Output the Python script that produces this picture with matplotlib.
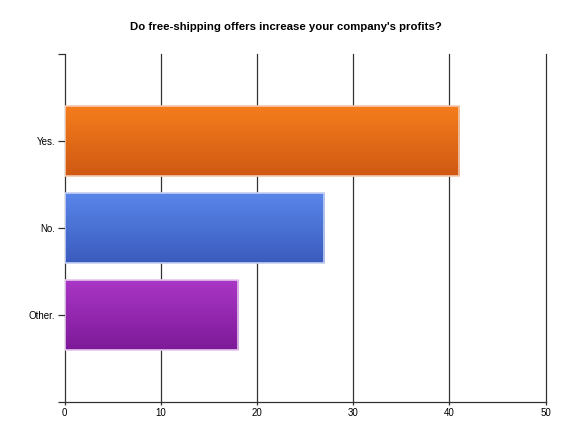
import numpy as np
import matplotlib
matplotlib.use("Agg")
import matplotlib.pyplot as plt
from matplotlib.colors import LinearSegmentedColormap

plt.rcParams['font.family'] = ['Liberation Sans', 'DejaVu Sans']

title = "Do free-shipping offers increase your company's profits?"
categories = ['Yes.', 'No.', 'Other.']
values = [41, 27, 18]
# top / bottom colours of each bar's gradient
top_colors = ['#f57d1c', '#5a86ea', '#aa36c6']
bottom_colors = ['#cf5914', '#3a5bbd', '#7d1a98']
edge_colors = ['#f3c9b0', '#c4d0f2', '#e6c6ee']

fig = plt.figure(figsize=(5.67, 4.23), dpi=100)
ax = fig.add_axes([0.1138, 0.0496, 0.8485, 0.8227])

ypos = np.arange(1, len(categories) + 1)
bars = ax.barh(ypos, values, height=0.8, facecolor='none', edgecolor='none', zorder=2)

grad = np.linspace(0, 1, 256).reshape(-1, 1)
for bar, c1, c2, ec in zip(bars, top_colors, bottom_colors, edge_colors):
    x0, y0 = bar.get_x(), bar.get_y()
    w, h = bar.get_width(), bar.get_height()
    cmap = LinearSegmentedColormap.from_list('g', [c1, c2])
    im = ax.imshow(grad, cmap=cmap, aspect='auto', extent=(x0, x0 + w, y0 + h, y0),
                   origin='upper', zorder=3)
    im.set_clip_path(bar)
    ax.add_patch(plt.Rectangle((x0, y0), w, h, fill=False, edgecolor=ec, lw=1.2, zorder=4))

ax.set_xlim(0, 50)
ax.set_ylim(4, 0)
xticks = np.arange(0, 51, 10)
ax.set_xticks(xticks)
ax.set_yticks([0] + list(ypos) + [4])
ax.set_yticklabels([''] + categories + [''])
for xv in xticks[1:]:
    ax.axvline(xv, color='#333333', lw=0.9, zorder=1, clip_on=False)

for s in ['top', 'right']:
    ax.spines[s].set_visible(False)
for s in ['left', 'bottom']:
    ax.spines[s].set_color('#333333')
    ax.spines[s].set_linewidth(0.9)

ax.tick_params(axis='y', length=5, width=0.9, color='#333333', labelsize=7, pad=1.5)
ax.tick_params(axis='x', length=2, width=0.9, color='#333333', labelsize=7, pad=2.5)

fig.text(0.505, 0.936, title, ha='center', va='center', fontsize=8.2, fontweight='bold')

fig.savefig('out.png', dpi=100)
